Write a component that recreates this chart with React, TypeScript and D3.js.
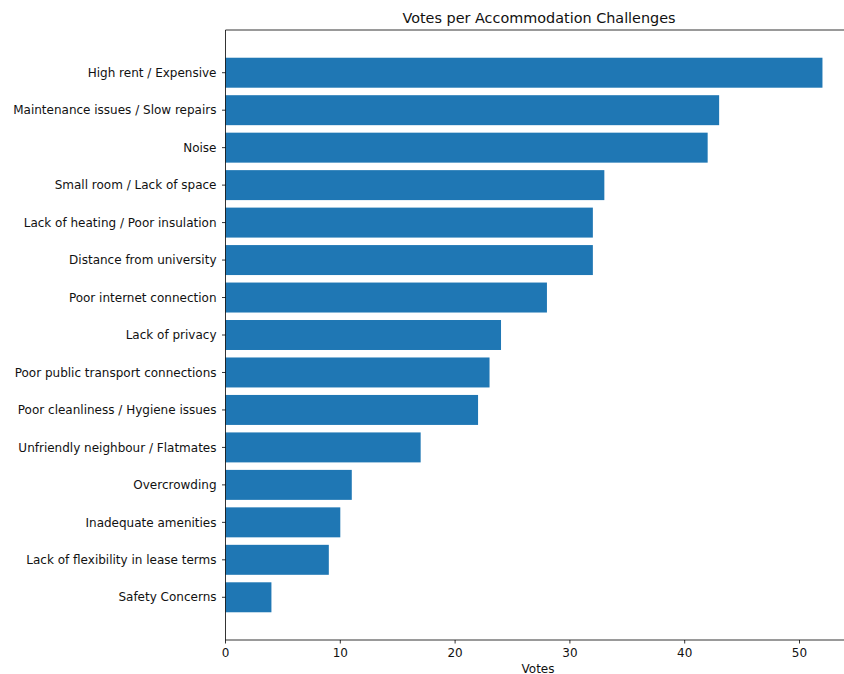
import React from "react";
import * as d3 from "d3";

const categories = [
  "High rent / Expensive",
  "Maintenance issues / Slow repairs",
  "Noise",
  "Small room / Lack of space",
  "Lack of heating / Poor insulation",
  "Distance from university",
  "Poor internet connection",
  "Lack of privacy",
  "Poor public transport connections",
  "Poor cleanliness / Hygiene issues",
  "Unfriendly neighbour / Flatmates",
  "Overcrowding",
  "Inadequate amenities",
  "Lack of flexibility in lease terms",
  "Safety Concerns",
];
const votes = [52, 43, 42, 33, 32, 32, 28, 24, 23, 22, 17, 11, 10, 9, 4];
const xTicks = [0, 10, 20, 30, 40, 50];
const title = "Votes per Accommodation Challenges";
const xLabel = "Votes";

const W = 844;
const H = 674;
const left = 225.5;
const top = 30;
const bottom = 640;
const font = "DejaVu Sans, sans-serif";

export default function App() {
  const xMax = d3.max(votes)! * 1.05;
  const x = d3.scaleLinear().domain([0, xMax]).range([left, left + 11.48 * xMax]);
  const n = categories.length;
  const y = d3.scaleLinear().domain([-1.14, n - 1 + 1.14]).range([top, bottom]);
  const bh = y(0.4) - y(-0.4);
  const right = x(xMax);
  return (
    <svg
      width={W}
      height={H}
      style={{ position: "absolute", left: 0, top: 0, overflow: "hidden", background: "#fff" }}
      fontFamily={font}
    >
      <rect x={0} y={0} width={W} height={H} fill="#fff" />
      {votes.map((v, i) => (
        <rect key={i} x={x(0)} y={y(i) - bh / 2} width={x(v) - x(0)} height={bh} fill="#1f77b4" />
      ))}
      {categories.map((c, i) => (
        <g key={c}>
          <line x1={left - 3.5} x2={left} y1={y(i)} y2={y(i)} stroke="#000" strokeWidth={0.8} />
          <text x={left - 9} y={y(i)} dy="0.35em" textAnchor="end" fontSize={12} fill="#111">
            {c}
          </text>
        </g>
      ))}
      {xTicks.map((t) => (
        <g key={t}>
          <line x1={x(t)} x2={x(t)} y1={bottom} y2={bottom + 3.5} stroke="#000" strokeWidth={0.8} />
          <text x={x(t)} y={bottom + 17} textAnchor="middle" fontSize={12} fill="#111">
            {t}
          </text>
        </g>
      ))}
      <line x1={left} x2={left} y1={top} y2={bottom} stroke="#000" strokeWidth={0.8} />
      <line x1={left} x2={right} y1={bottom} y2={bottom} stroke="#000" strokeWidth={0.8} />
      <line x1={left} x2={right} y1={top} y2={top} stroke="#000" strokeWidth={0.8} />
      <line x1={right} x2={right} y1={top} y2={bottom} stroke="#000" strokeWidth={0.8} />
      <text x={539} y={23} textAnchor="middle" fontSize={14.4} fill="#111">
        {title}
      </text>
      <text x={538} y={673} textAnchor="middle" fontSize={12} fill="#111">
        {xLabel}
      </text>
    </svg>
  );
}
